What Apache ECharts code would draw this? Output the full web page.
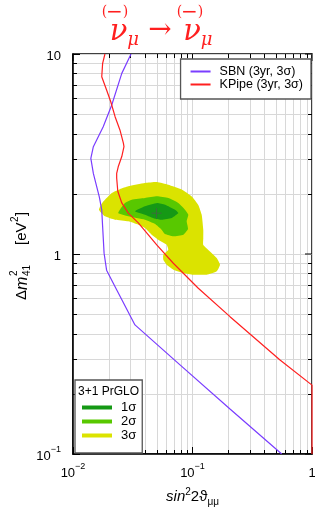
<!DOCTYPE html>
<html><head><meta charset="utf-8">
<script src="https://cdn.jsdelivr.net/npm/echarts@6/dist/echarts.min.js"></script>
<style>html,body{margin:0;padding:0;background:#fff}#c{width:315px;height:507px}</style>
</head><body><div id="c"></div>
<script>
// ---- data ----
const xTickValues = [0.01, 0.1, 1];
const yTickValues = [0.1, 1, 10];
const xMinorValues = [0.02,0.03,0.04,0.05,0.06,0.07,0.08,0.09,0.2,0.3,0.4,0.5,0.6,0.7,0.8,0.9];
const yMinorValues = [0.2,0.3,0.4,0.5,0.6,0.7,0.8,0.9,2,3,4,5,6,7,8,9];

const sbnX = [0.0306,0.0256,0.0211,0.0179,0.0148,0.0141,0.0148,0.0166,0.0174,0.0177,0.0182,0.0191,0.0225,0.0257,0.0330,0.0786,0.206,0.558];
const sbnY = [10,8.0,5.56,4.33,3.44,3.01,2.53,1.93,1.66,1.37,1.01,0.83,0.686,0.589,0.442,0.279,0.168,0.1];

const kpX = [0.0185,0.0177,0.0174,0.0191,0.0207,0.0225,0.0247,0.0264,0.0267,0.0256,0.0239,0.0232,0.0232,0.0237,0.0256,0.0290,0.0352,0.0502,0.0691,0.1118,0.206,0.54,1.0,1.0];
const kpY = [10,8.98,7.70,6.61,5.77,4.86,4.17,3.58,3.44,3.07,2.73,2.53,2.40,2.06,1.80,1.60,1.43,1.11,0.899,0.674,0.486,0.295,0.221,0.1];

const sigma3 = [[0.0165,1.665],[0.0178,1.82],[0.0211,2.02],[0.0247,2.11],[0.0290,2.18],[0.0400,2.265],[0.0505,2.29],[0.0627,2.22],[0.0812,2.10],[0.0985,1.94],[0.1118,1.76],[0.1194,1.57],[0.1231,1.32],[0.1231,1.20],[0.1231,1.11],[0.1401,1.03],[0.1594,0.955],[0.1699,0.884],[0.1594,0.82],[0.1315,0.788],[0.1016,0.788],[0.0838,0.804],[0.0691,0.835],[0.0608,0.884],[0.0570,0.936],[0.0570,0.992],[0.0627,1.051],[0.0608,1.113],[0.0517,1.179],[0.0456,1.249],[0.0400,1.349],[0.0352,1.401],[0.0290,1.457],[0.0225,1.484],[0.0185,1.543]];
const sigma2 = [[0.0239,1.603],[0.0272,1.80],[0.0310,1.868],[0.0400,1.905],[0.0505,1.943],[0.0627,1.905],[0.0761,1.80],[0.0866,1.665],[0.0922,1.572],[0.0894,1.457],[0.0917,1.334],[0.0838,1.249],[0.0691,1.226],[0.0589,1.259],[0.0545,1.334],[0.0486,1.413],[0.0400,1.484],[0.0290,1.543]];
const sigma1 = [[0.0330,1.635],[0.0400,1.732],[0.0505,1.80],[0.0589,1.764],[0.0714,1.665],[0.0761,1.603],[0.0670,1.514],[0.0553,1.484],[0.0486,1.501],[0.0400,1.572]];
const bestFit = [[0.050,1.60]];

const seriesNames = ['SBN (3yr, 3σ)','KPipe (3yr, 3σ)'];
const sigmaNames = ['1σ','2σ','3σ'];

// ---- styles ----
const FONT = 'Liberation Sans, Arial, sans-serif';
const SERIF = 'DejaVu Serif, serif';
const C_SBN = '#7a3dff', C_KP = '#ff1f1f';
const C1 = '#159915', C2 = '#58c800', C3 = '#dbe300';
const GRIDC = '#d8d8d8';

function expLabel(v){
  const e = Math.round(Math.log10(v));
  if (e === 0) return '{b|1}';
  if (e === 1) return '{b|10}';
  return '{b|10}{s|' + (e < 0 ? '−' : '') + Math.abs(e) + '}';
}
const labelRich = {
  b:{fontSize:13, fontFamily:FONT, color:'#000', lineHeight:18, verticalAlign:'bottom'},
  s:{fontSize:9, fontFamily:FONT, color:'#000', lineHeight:9, verticalAlign:'top'}
};

function pairs(xs, ys){ return xs.map((x,i)=>[x, ys[i]]); }

function polySeries(name, pts, color, z){
  return {type:'custom', name, coordinateSystem:'cartesian2d', z, silent:true,
    itemStyle:{color}, data:pts,
    renderItem:(p, api)=> p.dataIndex === 0 ? {type:'polygon',
      shape:{points:pts.map(q=>api.coord(q)), smooth:0.15},
      style:{fill:color}} : null};
}
function txt(x, y, text, size, opts){
  return Object.assign({type:'text', x, y, style:Object.assign({text, fontSize:size, fontFamily:FONT, fill:'#000', align:'center', verticalAlign:'middle'}, opts||{})});
}

const chart = echarts.init(document.getElementById('c'), null, {renderer:'canvas'});
chart.setOption({
  animation:false,
  backgroundColor:'#fff',
  grid:{left:73, right:3, top:54, bottom:53, containLabel:false, outerBoundsMode:'none',
        show:true, borderColor:'#000', borderWidth:1.5, backgroundColor:'transparent'},
  xAxis:{type:'log', logBase:10, min:xTickValues[0], max:xTickValues[2],
    axisLine:{show:true, lineStyle:{color:'#000', width:1.5}},
    axisTick:{show:true, inside:true, length:7, lineStyle:{color:'#000'}},
    splitLine:{show:true, lineStyle:{color:GRIDC, width:1}},
    axisLabel:{margin:8, formatter:expLabel, rich:labelRich},
    name:'{i|sin}{s|2}{n|2ϑ}{u|μμ}', nameLocation:'middle', nameGap:33,
    nameTextStyle:{rich:{
      i:{fontSize:15, fontStyle:'italic', fontFamily:FONT, color:'#000', lineHeight:20, verticalAlign:'middle'},
      n:{fontSize:15, fontFamily:FONT, color:'#000', lineHeight:20, verticalAlign:'middle'},
      s:{fontSize:10, fontFamily:FONT, color:'#000', lineHeight:10, verticalAlign:'top'},
      u:{fontSize:10, fontFamily:FONT, color:'#000', lineHeight:10, verticalAlign:'bottom'}
    }}
  },
  yAxis:{type:'log', logBase:10, min:yTickValues[0], max:yTickValues[2],
    axisLine:{show:true, lineStyle:{color:'#000', width:1.5}},
    axisTick:{show:true, inside:true, length:7, lineStyle:{color:'#000'}},
    splitLine:{show:true, lineStyle:{color:GRIDC, width:1}},
    axisLabel:{margin:12, formatter:expLabel, rich:labelRich}
  },
  legend:[
    {data:seriesNames, orient:'vertical', right:4, top:59, backgroundColor:'#fff',
     borderColor:'#555', borderWidth:1.3, padding:[6,8,8,10], itemGap:0,
     itemWidth:20, itemHeight:2, icon:'rect',
     textStyle:{fontSize:12.5, color:'#000', fontFamily:FONT, padding:[0,0,0,4]}},
    {data:sigmaNames, orient:'vertical', left:75, top:380, backgroundColor:'#fff',
     borderColor:'#555', borderWidth:1.3, padding:[21,6,11,7], itemGap:1,
     itemWidth:30, itemHeight:4, icon:'rect',
     textStyle:{fontSize:13, color:'#000', fontFamily:FONT, padding:[0,0,0,4]}}
  ],
  graphic:[
    Object.assign(txt(78, 392, '3+1 PrGLO', 12, {align:'left'}), {z:100}),
    // title
    txt(104.5, 12, '(', 14, {fill:C_KP, fontFamily:SERIF}),
    txt(114.5, 12.5, '−', 20, {fill:C_KP, fontFamily:SERIF}),
    txt(125.5, 12, ')', 14, {fill:C_KP, fontFamily:SERIF}),
    txt(118.5, 32, 'ν', 29, {fill:C_KP, fontFamily:SERIF, fontStyle:'italic'}),
    txt(133, 40, 'μ', 18, {fill:C_KP, fontFamily:SERIF, fontStyle:'italic'}),
    txt(160, 31, '→', 28, {fill:C_KP, fontFamily:SERIF}),
    txt(179.5, 12, '(', 14, {fill:C_KP, fontFamily:SERIF}),
    txt(189.5, 12.5, '−', 20, {fill:C_KP, fontFamily:SERIF}),
    txt(200.5, 12, ')', 14, {fill:C_KP, fontFamily:SERIF}),
    txt(192, 32, 'ν', 29, {fill:C_KP, fontFamily:SERIF, fontStyle:'italic'}),
    txt(206.5, 40, 'μ', 18, {fill:C_KP, fontFamily:SERIF, fontStyle:'italic'}),
    // y-axis title (rotated)
    {type:'group', x:22, y:257, rotation:Math.PI/2, children:[
      txt(-43, 0, 'Δ', 15, {align:'left'}),
      txt(-33, 1, 'm', 16, {align:'left', fontStyle:'italic'}),
      txt(-19, -8, '2', 10, {align:'left'}),
      txt(-19, 5, '41', 10, {align:'left'}),
      txt(12, 0, '[eV', 15, {align:'left'}),
      txt(35, -7, '2', 10, {align:'left'}),
      txt(41, 0, ']', 15, {align:'left'})
    ]}
  ],
  series:[
    {type:'custom', silent:true, z:0, coordinateSystem:'cartesian2d', data:[[xTickValues[1], yTickValues[1]]],
     renderItem:(p, api)=>{
       const cs = p.coordSys, L = cs.x, T = cs.y, R = cs.x + cs.width, B = cs.y + cs.height;
       const ch = [];
       const ln = (x1,y1,x2,y2,c)=>({type:'line', shape:{x1,y1,x2,y2}, style:{stroke:c, lineWidth:1}});
       xMinorValues.forEach(v=>{ const x = Math.round(api.coord([v, yTickValues[1]])[0]) + 0.5;
         ch.push(ln(x,T,x,B,GRIDC)); ch.push(ln(x,B,x,B-4,'#000')); ch.push(ln(x,T,x,T+4,'#000')); });
       yMinorValues.forEach(v=>{ const y = Math.round(api.coord([xTickValues[1], v])[1]) + 0.5;
         ch.push(ln(L,y,R,y,GRIDC)); ch.push(ln(L,y,L+4,y,'#000')); ch.push(ln(R,y,R-4,y,'#000')); });
       xTickValues.forEach(v=>{ const x = api.coord([v, yTickValues[1]])[0]; ch.push(ln(x,T,x,T+7,'#000')); });
       yTickValues.forEach(v=>{ const y = api.coord([xTickValues[1], v])[1]; ch.push(ln(R,y,R-7,y,'#000')); });
       return {type:'group', children:ch};
     }},
    polySeries(sigmaNames[2], sigma3, C3, 2),
    polySeries(sigmaNames[1], sigma2, C2, 3),
    polySeries(sigmaNames[0], sigma1, C1, 4),
    {type:'custom', silent:true, z:5, coordinateSystem:'cartesian2d', data:bestFit,
     renderItem:(p, api)=>{ const c = api.coord(bestFit[p.dataIndex]);
       return {type:'group', children:[
         {type:'line', shape:{x1:c[0]-5,y1:c[1],x2:c[0]+5,y2:c[1]}, style:{stroke:'#3d6b3d', lineWidth:1}},
         {type:'line', shape:{x1:c[0],y1:c[1]-5,x2:c[0],y2:c[1]+5}, style:{stroke:'#3d6b3d', lineWidth:1}}]}; }},
    {type:'line', name:seriesNames[0], z:6, data:pairs(sbnX, sbnY), color:C_SBN, showSymbol:false, symbol:'none',
     lineStyle:{color:C_SBN, width:1.2}, clip:true},
    {type:'line', name:seriesNames[1], z:6, data:pairs(kpX, kpY), color:C_KP, showSymbol:false, symbol:'none',
     lineStyle:{color:C_KP, width:1.2}, clip:false}
  ]
});
</script>
</body></html>
